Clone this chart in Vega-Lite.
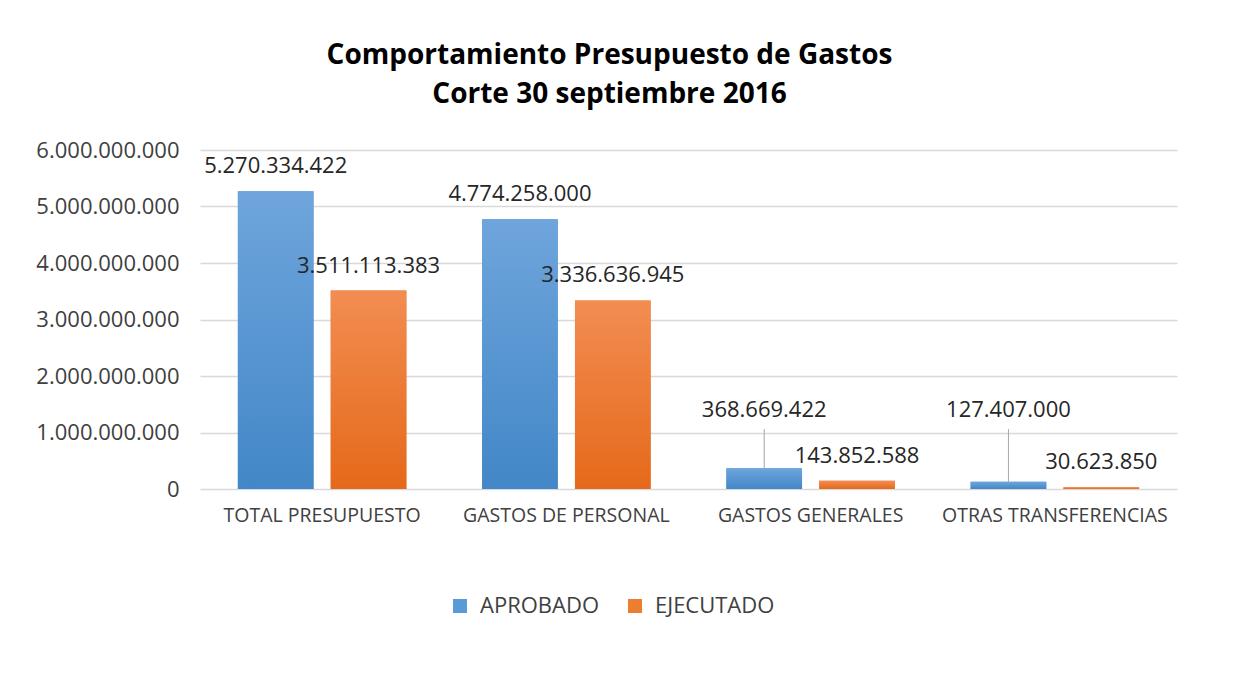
{
  "$schema": "https://vega.github.io/schema/vega-lite/v6.json",
  "width": 977,
  "height": 339,
  "autosize": {"type": "none"},
  "padding": {"left": 200, "top": 150, "right": 66, "bottom": 184},
  "background": "white",
  "config": {
    "font": "Open Sans",
    "view": {"stroke": null},
    "locale": {
      "number": {"decimal": ",", "thousands": ".", "grouping": [3], "currency": ["$", ""]}
    }
  },
  "title": {
    "text": ["Comportamiento Presupuesto de Gastos", "Corte 30 septiembre 2016"],
    "fontSize": 28,
    "fontWeight": "bold",
    "color": "#000000",
    "anchor": "middle",
    "lineHeight": 39,
    "dx": -79,
    "offset": 30
  },
  "data": {
    "values": [
      {"categoria": "TOTAL PRESUPUESTO", "serie": "APROBADO", "valor": 5270334422},
      {"categoria": "TOTAL PRESUPUESTO", "serie": "EJECUTADO", "valor": 3511113383},
      {"categoria": "GASTOS DE PERSONAL", "serie": "APROBADO", "valor": 4774258000},
      {"categoria": "GASTOS DE PERSONAL", "serie": "EJECUTADO", "valor": 3336636945},
      {"categoria": "GASTOS GENERALES", "serie": "APROBADO", "valor": 368669422},
      {"categoria": "GASTOS GENERALES", "serie": "EJECUTADO", "valor": 143852588},
      {"categoria": "OTRAS TRANSFERENCIAS", "serie": "APROBADO", "valor": 127407000},
      {"categoria": "OTRAS TRANSFERENCIAS", "serie": "EJECUTADO", "valor": 30623850}
    ]
  },
  "encoding": {
    "x": {
      "field": "categoria",
      "type": "nominal",
      "sort": null,
      "scale": {"paddingInner": 0.31, "paddingOuter": 0.155},
      "axis": {
        "title": null,
        "labelAngle": 0,
        "labelFontSize": 19.5,
        "labelColor": "#404040",
        "labelLimit": 400,
        "ticks": false,
        "domain": false,
        "labelPadding": 17
      }
    },
    "xOffset": {
      "field": "serie",
      "type": "nominal",
      "scale": {"paddingInner": 0.185, "paddingOuter": 0}
    },
    "y": {
      "field": "valor",
      "type": "quantitative",
      "scale": {"domain": [0, 6000000000], "nice": false},
      "axis": {
        "title": null,
        "values": [0, 1000000000, 2000000000, 3000000000, 4000000000, 5000000000, 6000000000],
        "format": ",d",
        "grid": true,
        "gridColor": "#d9d9d9",
        "gridWidth": 1.5,
        "domain": false,
        "ticks": false,
        "labelFontSize": 22,
        "labelColor": "#404040",
        "labelPadding": 21
      }
    }
  },
  "layer": [
    {
      "mark": {"type": "bar"},
      "encoding": {
        "color": {
          "field": "serie",
          "type": "nominal",
          "scale": {"domain": ["APROBADO", "EJECUTADO"], "range": ["#5b9bd5", "#ed7d31"]},
          "legend": {
            "title": null,
            "orient": "none",
            "direction": "horizontal",
            "legendX": 249,
            "legendY": 445,
            "padding": 0,
            "symbolType": "square",
            "symbolSize": 196,
            "symbolStrokeWidth": 0,
            "labelFontSize": 22,
            "labelColor": "#404040",
            "labelOffset": 9,
            "columnPadding": 24
          }
        }
      }
    },
    {
      "transform": [{"filter": "datum.serie == 'APROBADO'"}],
      "mark": {
        "type": "bar",
        "color": {
          "gradient": "linear", "x1": 0, "y1": 0, "x2": 0, "y2": 1,
          "stops": [{"offset": 0, "color": "#6fa5dc"}, {"offset": 1, "color": "#4287c7"}]
        }
      }
    },
    {
      "transform": [{"filter": "datum.serie == 'EJECUTADO'"}],
      "mark": {
        "type": "bar",
        "color": {
          "gradient": "linear", "x1": 0, "y1": 0, "x2": 0, "y2": 1,
          "stops": [{"offset": 0, "color": "#f28d52"}, {"offset": 1, "color": "#e5691a"}]
        }
      }
    },
    {
      "transform": [{"filter": "!(datum.serie == 'APROBADO' && (datum.categoria == 'GASTOS GENERALES' || datum.categoria == 'OTRAS TRANSFERENCIAS'))"}],
      "mark": {"type": "text", "dy": -25, "baseline": "middle", "fontSize": 22, "color": "#262626"},
      "encoding": {"text": {"field": "valor", "type": "quantitative", "format": ",d"}}
    },
    {
      "transform": [{"filter": "datum.serie == 'APROBADO' && (datum.categoria == 'GASTOS GENERALES' || datum.categoria == 'OTRAS TRANSFERENCIAS')"}],
      "mark": {"type": "rule", "color": "#a6a6a6", "strokeWidth": 1},
      "encoding": {"y2": {"datum": 1060000000}}
    },
    {
      "transform": [{"filter": "datum.serie == 'APROBADO' && (datum.categoria == 'GASTOS GENERALES' || datum.categoria == 'OTRAS TRANSFERENCIAS')"}],
      "mark": {"type": "text", "baseline": "middle", "fontSize": 22, "color": "#262626"},
      "encoding": {
        "y": {"datum": 1400000000},
        "text": {"field": "valor", "type": "quantitative", "format": ",d"}
      }
    }
  ]
}
